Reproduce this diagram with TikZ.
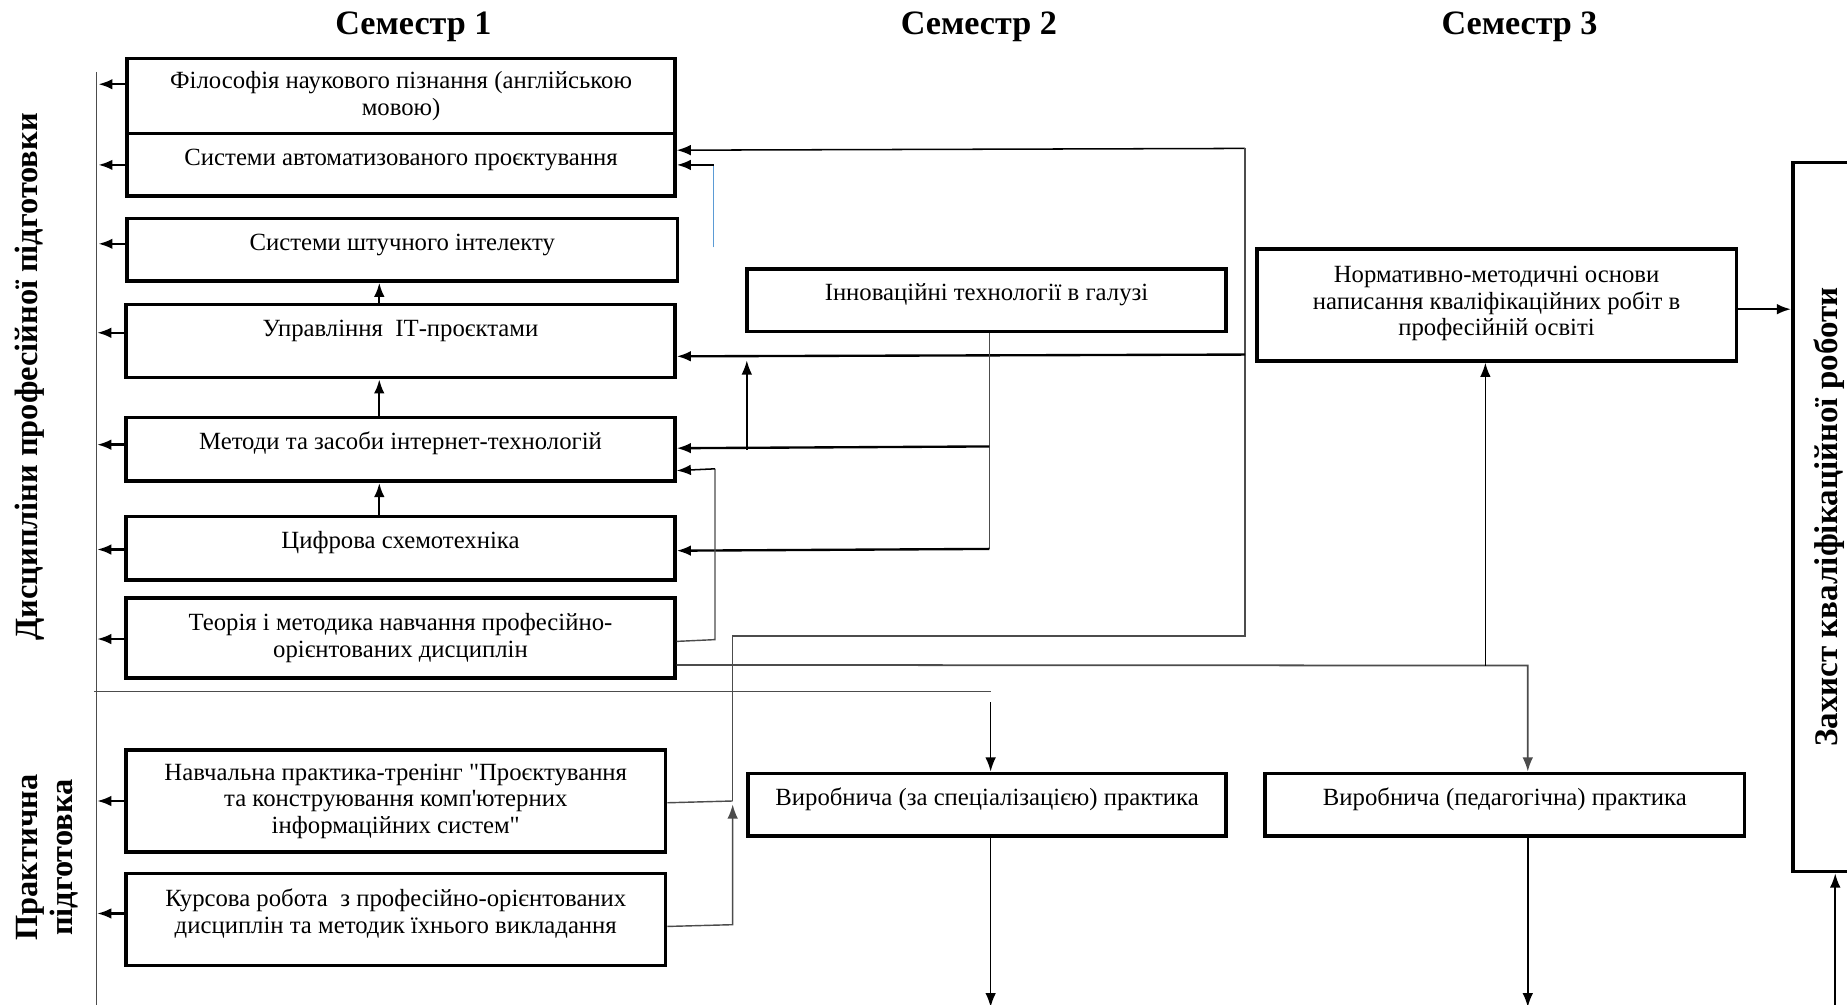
\documentclass[tikz,border=0pt]{standalone}
\usepackage{fontspec}
\setmainfont{Liberation Serif}[Ligatures=TeXOff]
\usetikzlibrary{arrows.meta,calc}
\newcommand\bxfont{\fontsize{21}{22.5}\selectfont}
\newcommand\hdfont{\fontsize{29}{32}\selectfont\bfseries}
\newcommand\sdfont{\fontsize{27.5}{30}\selectfont\bfseries}
\newcommand\zhfont{\fontsize{28}{30}\selectfont\bfseries}
\definecolor{lblue}{RGB}{91,155,213}
\begin{document}
\begin{tikzpicture}[x=1pt,y=-1pt,
 box/.style={draw,line width=3pt,inner xsep=3pt,inner ysep=0pt,align=center,font=\bxfont,anchor=north},
 one/.style={text height=27pt,text depth=#1},
 arr/.style={line width=2pt,-{Latex[length=12pt,width=9pt]}},
 tarr/.style={line width=1.3pt,-{Latex[length=12pt,width=9pt]}},
 gl/.style={line width=1.2pt,draw=black!70},
 hd/.style={font=\hdfont},
]
\useasboundingbox (0,0) rectangle (1568,853);
\clip (0,0) rectangle (1568,853);
\fill[white] (0,0) rectangle (1568,853);

% headers
\node[hd] (h1) at (351,23) {Семестр 1};
\node[hd] (h2) at (831,23) {Семестр 2};
\node[hd] (h3) at (1290,23) {Семестр 3};

% side labels
\node[font=\sdfont,rotate=90] (ld) at (25,320) {Дисципліни професійної підготовки};
\node[font=\sdfont,rotate=90,align=center] (lp) at (40,728) {Практична\\підготовка};

% semester 1 boxes
\node[box,minimum width=465pt,minimum height=64pt] (b1) at (340.5,48) {Філософія наукового пізнання (англійською\\мовою)};
\node[box,one=26pt,minimum width=465pt] (b2) at (340.5,112) {Системи автоматизованого проєктування};
\node[box,one=26pt,minimum width=467pt] (b3) at (341.5,184) {Системи штучного інтелекту};
\node[box,one=35pt,minimum width=466pt] (b4) at (340,257) {Управління \ ІТ-проєктами};
\node[box,one=27pt,minimum width=466pt] (b5) at (340,353) {Методи та засоби інтернет-технологій};
\node[box,one=27pt,minimum width=466pt] (b6) at (340,437) {Цифрова схемотехніка};
\node[box,minimum width=466pt,minimum height=68pt] (b7) at (340,506) {Теорія і методика навчання професійно-\\орієнтованих дисциплін};
\node[box,minimum width=458pt,minimum height=87pt] (b8) at (336,635) {Навчальна практика-тренінг "Проєктування\\та конструювання комп'ютерних\\інформаційних систем"};
\node[box,minimum width=458pt,minimum height=78pt] (b9) at (336,740) {Курсова робота \ з професійно-орієнтованих\\дисциплін та методик їхнього викладання\\[-8.5pt]\mbox{}};

% semester 2 / 3 boxes
\node[box,one=26pt,minimum width=407pt] (inn) at (837.5,227) {Інноваційні технології в галузі};
\node[box,one=26pt,minimum width=406pt] (vs) at (838,655) {Виробнича (за спеціалізацією) практика};
\node[box,one=26pt,minimum width=407pt] (vp) at (1277.5,655) {Виробнича (педагогічна) практика};
\node[box,minimum width=407pt,minimum height=95pt] (norm) at (1270.5,210) {Нормативно-методичні основи\\написання кваліфікаційних робіт в\\професійній освіті\\[-15.5pt]\mbox{}};
\node[draw,line width=3pt,rotate=90,minimum width=602pt,minimum height=62pt,font=\zhfont] (zah) at (1553,439) {Захист кваліфікаційної роботи};

% left spine and separator
\coordinate (Lt) at (82,61);
\coordinate (Lb) at (82,860);
\draw[gl] (Lt) -- (Lb);
\coordinate (Sa) at (80,587);
\coordinate (Sb) at (841,587);
\draw[gl,line width=1.5pt] (Sa) -- (Sb);

% left arrows
\draw[arr] ($(b1.west)+(0,-10)$) -- ++(-23,0);
\draw[arr] (b2.west) -- ++(-23,0);
\draw[arr] ($(b3.west)+(0,-5)$) -- ++(-23,0);
\draw[arr] ($(b4.west)+(0,-7)$) -- ++(-23,0);
\draw[arr] ($(b5.west)+(0,-4)$) -- ++(-23,0);
\draw[arr] ($(b6.west)+(0,1)$) -- ++(-23,0);
\draw[arr] ($(b7.west)+(0,1)$) -- ++(-23,0);
\draw[arr] (b8.west) -- ++(-23,0);
\draw[arr] ($(b9.west)+(0,-5)$) -- ++(-23,0);

% vertical arrows in column 1
\draw[arr] ($(b4.north)+(-18,0)$) -- ($(b3.south)+(-19.5,0)$);
\draw[arr] ($(b5.north)+(-18,0)$) -- ($(b4.south)+(-18,0)$);
\draw[arr] ($(b6.north)+(-18,0)$) -- ($(b5.south)+(-18,0)$);

% long loop from practice boxes to CAD systems
\coordinate (Rt) at (1057,126);
\coordinate (Rm) at (1057,301);
\coordinate (Rb) at (1057,540);
\coordinate (Kb) at (622,540);
\coordinate (Kn) at (622,680);
\coordinate (Kk) at (622,785);
\draw[tarr] (Rt) -- ($(b2.east)+(0,-12.5)$);
\draw[gl] (Rt) -- (Rb) -- (Kb) -- (Kn);
\draw[gl] ($(b8.east)+(0,1.5)$) -- (Kn);
\draw[gl,-{Latex[length=12pt,width=9pt]}] ($(b9.east)+(0,6)$) -- (Kk) -- ($(Kn)+(0,3)$);
\draw[arr] (Rm) -- ($(b4.east)+(0,13)$);

% blue stub
\coordinate (Bb) at (606,210);
\draw[lblue,line width=1pt] (Bb) -- (Bb |- b2.east);
\draw[arr] (Bb |- b2.east) -- (b2.east);

% small up arrow
\coordinate (Ua) at (634,382);
\draw[tarr] (Ua) -- ++(0,-76);

% innovations
\coordinate (Ia) at (840,379);
\coordinate (Ib) at (840,466);
\draw[gl,line width=1.5pt] (inn.south -| Ib) -- (Ib);
\draw[arr] (Ia) -- ($(b5.east)+(0,-1)$);
\draw[arr] (Ib) -- ($(b6.east)+(0,2)$);

% theory -> methods
\coordinate (Ta) at (607,543);
\coordinate (Tb) at (607,398);
\draw[gl] ($(b7.east)+(0,3)$) -- (Ta) -- (Tb);
\draw[tarr] (Tb) -- ($(b5.east)+(0,18)$);

% theory -> pedagogical practice and norms
\coordinate (Pa) at (1297,565);
\coordinate (Pn) at (1261,565);
\draw[gl,line width=1.5pt,-{Latex[length=12pt,width=9pt]}] ($(b7.east)+(0,23)$) -- (Pa) -- (Pa |- vp.north);
\draw[tarr] (Pn) -- (Pn |- norm.south);

% separator arrow into production practice
\draw[tarr] ($(vs.north)+(3,-59)$) -- ($(vs.north)+(3,0)$);

% outgoing arrows at bottom
\draw[tarr] ($(vs.south)+(3,0)$) -- ++(0,144);
\draw[tarr] ($(vp.south)+(19.5,0)$) -- ++(0,144);

% norms -> defence
\coordinate (Ne) at ($(norm.east)+(0,3.5)$);
\draw[arr] (Ne) -- (Ne -| zah.north);
\coordinate (Zb) at (1558,860);
\draw[tarr] (Zb) -- (Zb |- zah.west);
\end{tikzpicture}
\end{document}
